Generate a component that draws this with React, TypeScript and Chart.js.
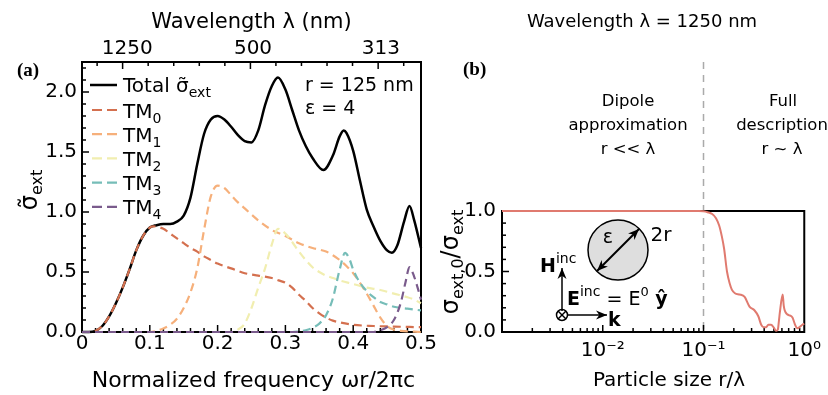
import React, { useEffect, useRef } from 'react';
import { Chart, registerables } from 'chart.js';

Chart.register(...registerables);

const SANS = '"DejaVu Sans", sans-serif';
const SERIF = '"Liberation Serif", "DejaVu Serif", serif';

// ---------- Panel (a): normalized extinction vs normalized frequency ----------
const totalFreq = [0, 0.01, 0.02, 0.03, 0.04, 0.05, 0.06, 0.07, 0.08, 0.09, 0.10, 0.11, 0.12, 0.13, 0.14, 0.15, 0.16, 0.17, 0.18, 0.19, 0.20, 0.21, 0.22, 0.23, 0.24, 0.25, 0.26, 0.27, 0.28, 0.289, 0.30, 0.31, 0.32, 0.33, 0.34, 0.356, 0.37, 0.38, 0.386, 0.39, 0.40, 0.41, 0.42, 0.43, 0.44, 0.45, 0.457, 0.465, 0.475, 0.483, 0.49, 0.50];
const totalExt = [0, 0, 0.01, 0.05, 0.13, 0.24, 0.37, 0.52, 0.68, 0.80, 0.87, 0.89, 0.90, 0.90, 0.92, 0.97, 1.12, 1.40, 1.65, 1.77, 1.80, 1.77, 1.71, 1.64, 1.59, 1.58, 1.68, 1.89, 2.05, 2.12, 2.02, 1.85, 1.68, 1.55, 1.45, 1.35, 1.47, 1.63, 1.68, 1.66, 1.51, 1.26, 1.02, 0.88, 0.76, 0.68, 0.66, 0.72, 0.92, 1.05, 0.93, 0.70];

const tm0Freq = [0, 0.01, 0.02, 0.03, 0.04, 0.05, 0.06, 0.07, 0.08, 0.09, 0.10, 0.105, 0.12, 0.13, 0.14, 0.15, 0.16, 0.17, 0.18, 0.19, 0.20, 0.22, 0.24, 0.26, 0.28, 0.29, 0.30, 0.31, 0.32, 0.33, 0.34, 0.35, 0.36, 0.37, 0.38, 0.40, 0.43, 0.46, 0.50];
const tm0Ext = [0, 0, 0.01, 0.05, 0.13, 0.24, 0.37, 0.52, 0.68, 0.80, 0.87, 0.88, 0.86, 0.82, 0.78, 0.74, 0.70, 0.67, 0.63, 0.60, 0.57, 0.53, 0.49, 0.47, 0.45, 0.43, 0.41, 0.37, 0.31, 0.26, 0.20, 0.155, 0.12, 0.095, 0.08, 0.06, 0.05, 0.045, 0.04];

const tm1Freq = [0, 0.10, 0.11, 0.12, 0.13, 0.14, 0.15, 0.16, 0.17, 0.18, 0.19, 0.20, 0.21, 0.22, 0.23, 0.24, 0.26, 0.28, 0.30, 0.32, 0.34, 0.36, 0.37, 0.38, 0.39, 0.40, 0.41, 0.42, 0.43, 0.44, 0.45, 0.46, 0.47, 0.50];
const tm1Ext = [0, 0, 0.01, 0.03, 0.06, 0.11, 0.20, 0.33, 0.53, 0.85, 1.13, 1.22, 1.20, 1.14, 1.08, 1.03, 0.93, 0.85, 0.80, 0.74, 0.70, 0.67, 0.64, 0.60, 0.55, 0.49, 0.41, 0.32, 0.22, 0.12, 0.05, 0.02, 0.01, 0];

const tm2Freq = [0, 0.22, 0.23, 0.24, 0.25, 0.26, 0.27, 0.28, 0.289, 0.30, 0.31, 0.32, 0.33, 0.34, 0.35, 0.36, 0.37, 0.38, 0.40, 0.42, 0.44, 0.46, 0.48, 0.49, 0.50];
const tm2Ext = [0, 0, 0.02, 0.07, 0.20, 0.37, 0.53, 0.73, 0.86, 0.82, 0.75, 0.67, 0.60, 0.54, 0.50, 0.47, 0.45, 0.43, 0.40, 0.37, 0.35, 0.32, 0.29, 0.27, 0.24];

const tm3Freq = [0, 0.31, 0.32, 0.33, 0.34, 0.35, 0.36, 0.37, 0.38, 0.388, 0.395, 0.40, 0.41, 0.42, 0.43, 0.44, 0.45, 0.46, 0.48, 0.50];
const tm3Ext = [0, 0, 0.005, 0.015, 0.035, 0.07, 0.14, 0.28, 0.52, 0.66, 0.60, 0.52, 0.41, 0.34, 0.29, 0.25, 0.23, 0.21, 0.195, 0.18];

const tm4Freq = [0, 0.43, 0.44, 0.45, 0.46, 0.47, 0.477, 0.483, 0.49, 0.495, 0.50];
const tm4Ext = [0, 0, 0.015, 0.04, 0.10, 0.24, 0.41, 0.54, 0.46, 0.37, 0.27];

const freqTicks = [0, 0.1, 0.2, 0.3, 0.4, 0.5];
const extTicks = [0, 0.5, 1.0, 1.5, 2.0];
const wavelengthTickPos = [0.0223, 0.0599, 0.0976, 0.1353, 0.173, 0.2107, 0.2484, 0.286, 0.3237, 0.3614, 0.399, 0.4368, 0.4745];
const wavelengthMajorIdx = [1, 6, 11];
const wavelengthLabelPos = [0.0668, 0.2522, 0.4407];
const wavelengthLabels = ['1250', '500', '313'];

const modeNames = ['0', '1', '2', '3', '4'];
const modeColors = ['#d4704f', '#f6b07b', '#f1eeb0', '#76bdb8', '#7a5b8c'];

// ---------- Panel (b): sigma_ext,0 / sigma_ext vs particle size ----------
const sizeRatio = [0.001, 0.01, 0.05, 0.09, 0.1, 0.11, 0.122, 0.133, 0.143, 0.152, 0.16, 0.171, 0.182, 0.191, 0.205, 0.229, 0.256, 0.286, 0.32, 0.35, 0.374, 0.395, 0.418, 0.44, 0.468, 0.50, 0.525, 0.547, 0.56, 0.572, 0.611, 0.625, 0.639, 0.67, 0.70, 0.764, 0.81, 0.855, 0.957, 1.0];
const extRatio = [1, 1, 1, 1, 0.998, 0.99, 0.975, 0.94, 0.88, 0.79, 0.69, 0.50, 0.40, 0.35, 0.32, 0.31, 0.29, 0.21, 0.18, 0.13, 0.06, 0.04, 0.04, 0.06, 0.06, 0.035, 0.01, 0.02, 0.09, 0.16, 0.31, 0.22, 0.18, 0.15, 0.14, 0.12, 0.06, 0.03, 0.06, 0.07];
const sizeTicks = [0.01, 0.1, 1];
const sizeTickLabels = ['10⁻²', '10⁻¹', '10⁰'];
const ratioTicks = [0, 0.5, 1.0];
const dipoleLimit = 0.1;

type Part = { t: string; size: number; dy?: number; bold?: boolean; family?: string };

function drawRich(ctx: CanvasRenderingContext2D, parts: Part[], x: number, y: number, align: 'left' | 'center' = 'left', rotate = 0) {
  ctx.save();
  ctx.translate(x, y);
  if (rotate) ctx.rotate(rotate);
  const fontOf = (p: Part) => `${p.bold ? 'bold ' : ''}${p.size}px ${p.family ?? SANS}`;
  let total = 0;
  for (const p of parts) {
    ctx.font = fontOf(p);
    total += ctx.measureText(p.t).width;
  }
  let cx = align === 'center' ? -total / 2 : 0;
  ctx.textAlign = 'left';
  ctx.textBaseline = 'alphabetic';
  ctx.fillStyle = '#000';
  for (const p of parts) {
    ctx.font = fontOf(p);
    ctx.fillText(p.t, cx, p.dy ?? 0);
    cx += ctx.measureText(p.t).width;
  }
  ctx.restore();
}

function arrow(ctx: CanvasRenderingContext2D, x1: number, y1: number, x2: number, y2: number, both = false) {
  const head = (fx: number, fy: number, tx: number, ty: number) => {
    const ang = Math.atan2(ty - fy, tx - fx);
    const L = 11, W = 4.5;
    ctx.beginPath();
    ctx.moveTo(tx, ty);
    ctx.lineTo(tx - L * Math.cos(ang) + W * Math.sin(ang), ty - L * Math.sin(ang) - W * Math.cos(ang));
    ctx.lineTo(tx - 0.7 * L * Math.cos(ang), ty - 0.7 * L * Math.sin(ang));
    ctx.lineTo(tx - L * Math.cos(ang) - W * Math.sin(ang), ty - L * Math.sin(ang) + W * Math.cos(ang));
    ctx.closePath();
    ctx.fill();
  };
  ctx.beginPath();
  ctx.moveTo(x1, y1);
  ctx.lineTo(x2, y2);
  ctx.stroke();
  head(x1, y1, x2, y2);
  if (both) head(x2, y2, x1, y1);
}

function tickLine(ctx: CanvasRenderingContext2D, x1: number, y1: number, x2: number, y2: number) {
  ctx.beginPath();
  ctx.moveTo(x1, y1);
  ctx.lineTo(x2, y2);
  ctx.stroke();
}

const leftDecor = {
  id: 'leftDecor',
  beforeDatasetsDraw(chart: any) {
    const { ctx, chartArea: a, scales } = chart;
    ctx.save();
    ctx.strokeStyle = '#000';
    ctx.lineWidth = 2;
    ctx.strokeRect(a.left, a.top, a.right - a.left, a.bottom - a.top);
    ctx.lineWidth = 1.5;
    for (let k = 1; k <= 22; k++) {
      const py = scales.y.getPixelForValue(k / 10);
      tickLine(ctx, a.left, py, a.left + (k % 5 === 0 ? 7 : 4), py);
    }
    for (let k = 1; k < 25; k++) {
      const px = scales.x.getPixelForValue(k * 0.02);
      tickLine(ctx, px, a.bottom, px, a.bottom - (k % 5 === 0 ? 7 : 4));
    }
    wavelengthTickPos.forEach((v, i) => {
      const px = scales.x2.getPixelForValue(v);
      tickLine(ctx, px, a.top, px, a.top + (wavelengthMajorIdx.includes(i) ? 7 : 4));
    });
    ctx.restore();
  },
  afterDraw(chart: any) {
    const { ctx, chartArea: a } = chart;
    ctx.save();
    const cx = (a.left + a.right) / 2;
    drawRich(ctx, [{ t: '(a)', size: 19, bold: true, family: SERIF }], 17, 76);
    drawRich(ctx, [{ t: 'Wavelength λ (nm)', size: 21 }], cx, 28, 'center');
    drawRich(ctx, [{ t: 'Normalized frequency ωr/2πc', size: 22 }], cx + 2, 387, 'center');
    drawRich(ctx, [{ t: 'σ̃', size: 24 }, { t: 'ext', size: 16, dy: 5 }], 37, 190, 'center', -Math.PI / 2);

    // legend
    const lx0 = 90, lx1 = 117, tx = 123;
    ctx.strokeStyle = '#000';
    ctx.lineWidth = 2.5;
    tickLine(ctx, lx0, 85, lx1, 85);
    drawRich(ctx, [{ t: 'Total σ̃', size: 20 }, { t: 'ext', size: 14, dy: 5 }], tx, 92);
    modeNames.forEach((m, i) => {
      const ly = 110 + i * 24.2;
      ctx.strokeStyle = modeColors[i];
      ctx.lineWidth = 2.2;
      ctx.setLineDash([10, 5]);
      tickLine(ctx, lx0 + 2, ly, lx1, ly);
      ctx.setLineDash([]);
      drawRich(ctx, [{ t: 'TM', size: 20 }, { t: m, size: 14, dy: 5 }], tx, ly + 7.5);
    });
    drawRich(ctx, [{ t: 'r = 125 nm', size: 19 }], 305, 91);
    drawRich(ctx, [{ t: 'ε = 4', size: 19 }], 305, 114);
    ctx.restore();
  },
};

const rightDecor = {
  id: 'rightDecor',
  beforeDatasetsDraw(chart: any) {
    const { ctx, chartArea: a, scales } = chart;
    ctx.save();
    // dashed separator
    const px = scales.x.getPixelForValue(dipoleLimit);
    ctx.strokeStyle = '#aaaaaa';
    ctx.lineWidth = 1.5;
    ctx.setLineDash([7, 6]);
    tickLine(ctx, px, 62, px, a.bottom);
    ctx.setLineDash([]);
    ctx.strokeStyle = '#000';
    ctx.lineWidth = 2;
    ctx.strokeRect(a.left, a.top, a.right - a.left, a.bottom - a.top);
    ctx.lineWidth = 1.5;
    for (let k = 1; k < 10; k++) {
      const py = scales.y.getPixelForValue(k / 10);
      tickLine(ctx, a.left, py, a.left + (k % 5 === 0 ? 7 : 4), py);
    }
    for (const dec of [0.001, 0.01, 0.1]) {
      for (let m = 1; m <= 9; m++) {
        const v = dec * m;
        if (v <= 0.001) continue;
        const x = scales.x.getPixelForValue(v);
        tickLine(ctx, x, a.bottom, x, a.bottom - (m === 1 ? 7 : 4));
      }
    }
    ctx.restore();
  },
  afterDraw(chart: any) {
    const { ctx } = chart;
    ctx.save();
    drawRich(ctx, [{ t: '(b)', size: 19, bold: true, family: SERIF }], 23, 75);
    drawRich(ctx, [{ t: 'Wavelength λ = 1250 nm', size: 18 }], 202, 27, 'center');
    drawRich(ctx, [{ t: 'Dipole', size: 16.5 }], 188, 106, 'center');
    drawRich(ctx, [{ t: 'approximation', size: 16.5 }], 188, 130, 'center');
    drawRich(ctx, [{ t: 'r << λ', size: 16.5 }], 188, 154, 'center');
    drawRich(ctx, [{ t: 'Full', size: 16.5 }], 343, 106, 'center');
    drawRich(ctx, [{ t: 'description', size: 16.5 }], 342, 130, 'center');
    drawRich(ctx, [{ t: 'r ~ λ', size: 16.5 }], 342, 154, 'center');
    drawRich(ctx, [{ t: 'Particle size r/λ', size: 20 }], 229, 386, 'center');
    drawRich(ctx, [{ t: 'σ', size: 24 }, { t: 'ext,0', size: 16, dy: 5 }, { t: '/σ', size: 24 }, { t: 'ext', size: 16, dy: 5 }], 18, 262, 'center', -Math.PI / 2);

    // inset: particle
    ctx.fillStyle = '#dedede';
    ctx.strokeStyle = '#000';
    ctx.lineWidth = 1.5;
    ctx.beginPath();
    ctx.arc(178, 250, 30, 0, Math.PI * 2);
    ctx.fill();
    ctx.stroke();
    ctx.fillStyle = '#000';
    ctx.lineWidth = 2;
    arrow(ctx, 157, 271, 199, 229, true);
    drawRich(ctx, [{ t: 'ε', size: 19 }], 168, 243, 'center');
    drawRich(ctx, [{ t: '2r', size: 20 }], 221, 241, 'center');

    // inset: incident field
    ctx.lineWidth = 1.5;
    arrow(ctx, 122, 311, 122, 268);
    arrow(ctx, 128, 315, 167, 315);
    ctx.beginPath();
    ctx.arc(122, 315, 5.5, 0, Math.PI * 2);
    ctx.stroke();
    tickLine(ctx, 118, 311, 126, 319);
    tickLine(ctx, 126, 311, 118, 319);
    drawRich(ctx, [{ t: 'H', size: 19, bold: true }, { t: 'inc', size: 14, dy: -9 }], 100, 272);
    drawRich(ctx, [{ t: 'E', size: 19, bold: true }, { t: 'inc', size: 14, dy: -9 }, { t: ' = E', size: 19 }, { t: '0', size: 13, dy: -9 }, { t: ' ŷ', size: 19, bold: true }], 127, 305);
    drawRich(ctx, [{ t: 'k', size: 19, bold: true }], 168, 326);
    ctx.restore();
  },
};

function pts(xs: number[], ys: number[]) {
  return xs.map((x, i) => ({ x, y: ys[i] }));
}

function modeDataset(i: number, xs: number[], ys: number[]) {
  return {
    label: 'TM' + modeNames[i],
    data: pts(xs, ys),
    borderColor: modeColors[i],
    borderWidth: 2.2,
    borderDash: [8, 5],
    pointRadius: 0,
    fill: false,
    clip: false,
    cubicInterpolationMode: 'monotone' as const,
    order: 6 - i,
  };
}

const tickFont = { family: SANS, size: 20 };

export default function App() {
  const leftRef = useRef<HTMLCanvasElement>(null);
  const rightRef = useRef<HTMLCanvasElement>(null);

  useEffect(() => {
    Chart.defaults.color = '#000';
    Chart.defaults.font.family = SANS;

    const left = new Chart(leftRef.current!, {
      type: 'line',
      data: {
        datasets: [
          {
            label: 'Total',
            data: pts(totalFreq, totalExt),
            borderColor: '#000',
            borderWidth: 2.5,
            pointRadius: 0,
            fill: false,
            clip: false,
            cubicInterpolationMode: 'monotone',
            order: 10,
          },
          modeDataset(0, tm0Freq, tm0Ext),
          modeDataset(1, tm1Freq, tm1Ext),
          modeDataset(2, tm2Freq, tm2Ext),
          modeDataset(3, tm3Freq, tm3Ext),
          modeDataset(4, tm4Freq, tm4Ext),
        ] as any,
      },
      options: {
        responsive: false,
        animation: false,
        layout: { padding: { left: 0, right: 19, top: 0, bottom: 0 } },
        plugins: { legend: { display: false }, tooltip: { enabled: false } },
        scales: {
          x: {
            type: 'linear',
            position: 'bottom',
            min: 0,
            max: 0.5,
            grid: { display: false, drawTicks: false },
            border: { display: false },
            ticks: {
              font: tickFont,
              color: '#000',
              padding: 0,
              maxRotation: 0,
              autoSkip: false,
              callback: (v: any) => (Number(v) === 0 ? '0' : Number(v).toFixed(1)),
            },
            afterBuildTicks: (s: any) => {
              s.ticks = freqTicks.map((v) => ({ value: v }));
            },
            afterFit: (s: any) => {
              s.height = 63;
            },
          },
          x2: {
            type: 'linear',
            position: 'top',
            min: 0,
            max: 0.5,
            grid: { display: false, drawTicks: false },
            border: { display: false },
            ticks: {
              font: tickFont,
              color: '#000',
              padding: 1,
              maxRotation: 0,
              autoSkip: false,
              callback: (_v: any, i: number) => wavelengthLabels[i],
            },
            afterBuildTicks: (s: any) => {
              s.ticks = wavelengthLabelPos.map((v) => ({ value: v }));
            },
            afterFit: (s: any) => {
              s.height = 62;
            },
          },
          y: {
            type: 'linear',
            min: 0,
            max: 2.25,
            grid: { display: false, drawTicks: false },
            border: { display: false },
            ticks: {
              font: tickFont,
              color: '#000',
              padding: 5,
              callback: (v: any) => Number(v).toFixed(1),
            },
            afterBuildTicks: (s: any) => {
              s.ticks = extTicks.map((v) => ({ value: v }));
            },
            afterFit: (s: any) => {
              s.width = 82;
            },
          },
        },
      } as any,
      plugins: [leftDecor],
    });

    const right = new Chart(rightRef.current!, {
      type: 'line',
      data: {
        datasets: [
          {
            label: 'ratio',
            data: pts(sizeRatio, extRatio),
            borderColor: '#e07a6f',
            borderWidth: 2,
            pointRadius: 0,
            fill: false,
            clip: false,
            cubicInterpolationMode: 'monotone',
          },
        ] as any,
      },
      options: {
        responsive: false,
        animation: false,
        layout: { padding: { left: 0, right: 20, top: 211, bottom: 0 } },
        plugins: { legend: { display: false }, tooltip: { enabled: false } },
        scales: {
          x: {
            type: 'logarithmic',
            position: 'bottom',
            min: 0.001,
            max: 1,
            grid: { display: false, drawTicks: false },
            border: { display: false },
            ticks: {
              font: tickFont,
              color: '#000',
              padding: 7,
              maxRotation: 0,
              autoSkip: false,
              callback: (_v: any, i: number) => sizeTickLabels[i],
            },
            afterBuildTicks: (s: any) => {
              s.ticks = sizeTicks.map((v) => ({ value: v }));
            },
            afterFit: (s: any) => {
              s.height = 63;
            },
          },
          y: {
            type: 'linear',
            min: 0,
            max: 1,
            grid: { display: false, drawTicks: false },
            border: { display: false },
            ticks: {
              font: tickFont,
              color: '#000',
              padding: 6,
              callback: (v: any) => Number(v).toFixed(1),
            },
            afterBuildTicks: (s: any) => {
              s.ticks = ratioTicks.map((v) => ({ value: v }));
            },
            afterFit: (s: any) => {
              s.width = 62;
            },
          },
        },
      } as any,
      plugins: [rightDecor],
    });

    return () => {
      left.destroy();
      right.destroy();
    };
  }, []);

  return (
    <div style={{ position: 'absolute', left: 0, top: 0, width: 828, height: 395, background: '#fff' }}>
      <canvas ref={leftRef} width={440} height={395} style={{ position: 'absolute', left: 0, top: 0, width: 440, height: 395 }} />
      <canvas ref={rightRef} width={388} height={395} style={{ position: 'absolute', left: 440, top: 0, width: 388, height: 395 }} />
    </div>
  );
}
